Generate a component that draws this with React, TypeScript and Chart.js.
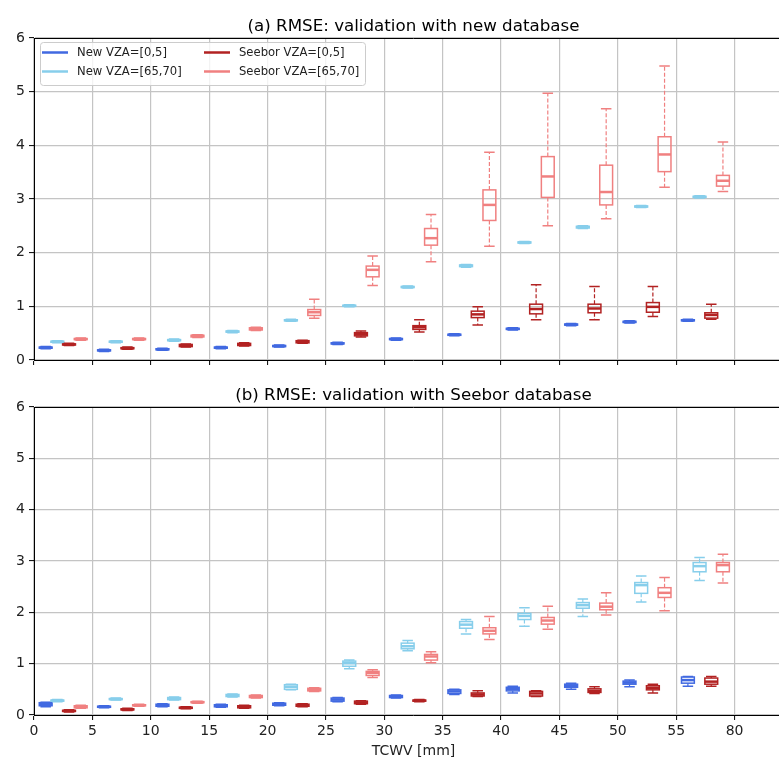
import React, { useEffect, useRef } from 'react';
import { Chart, registerables } from 'chart.js';

Chart.register(...registerables);

const FONT = "'DejaVu Sans', 'Liberation Sans', sans-serif";

// ---------------- data ----------------
const binStarts = [0, 5, 10, 15, 20, 25, 30, 35, 40, 45, 50, 55];
const seriesOffsets = [1, 2, 3, 4];
const xTickValues = [0, 5, 10, 15, 20, 25, 30, 35, 40, 45, 50, 55, 60];
const xTickLabels = ['0', '5', '10', '15', '20', '25', '30', '35', '40', '45', '50', '55', '80'];
const yTickValues = [0, 1, 2, 3, 4, 5, 6];
const seriesNames = ['New VZA=[0,5]', 'New VZA=[65,70]', 'Seebor VZA=[0,5]', 'Seebor VZA=[65,70]'];
const seriesColors = ['#4169e1', '#87ceeb', '#b22222', '#f08080'];
const titleA = '(a) RMSE: validation with new database';
const titleB = '(b) RMSE: validation with Seebor database';
const xAxisTitle = 'TCWV [mm]';

// each entry: [lower whisker, q1, median, q3, upper whisker]
const newLowA = [
  [0.21, 0.22, 0.23, 0.24, 0.25], [0.16, 0.17, 0.18, 0.19, 0.20], [0.18, 0.19, 0.20, 0.21, 0.22],
  [0.21, 0.22, 0.23, 0.24, 0.25], [0.24, 0.25, 0.26, 0.27, 0.28], [0.29, 0.30, 0.31, 0.32, 0.33],
  [0.37, 0.38, 0.39, 0.40, 0.41], [0.45, 0.46, 0.47, 0.48, 0.49], [0.56, 0.57, 0.58, 0.59, 0.60],
  [0.64, 0.65, 0.66, 0.67, 0.68], [0.69, 0.70, 0.71, 0.72, 0.73], [0.72, 0.73, 0.74, 0.75, 0.76],
];
const newHighA = [
  [0.32, 0.33, 0.34, 0.35, 0.36], [0.32, 0.33, 0.34, 0.35, 0.36], [0.35, 0.36, 0.37, 0.38, 0.39],
  [0.51, 0.52, 0.53, 0.54, 0.55], [0.72, 0.73, 0.74, 0.75, 0.76], [0.99, 1.00, 1.01, 1.02, 1.03],
  [1.34, 1.35, 1.36, 1.37, 1.38], [1.73, 1.74, 1.76, 1.77, 1.78], [2.17, 2.18, 2.19, 2.20, 2.21],
  [2.45, 2.46, 2.48, 2.49, 2.50], [2.84, 2.85, 2.86, 2.87, 2.88], [3.02, 3.03, 3.04, 3.05, 3.06],
];
const seeLowA = [
  [0.27, 0.28, 0.29, 0.30, 0.31], [0.20, 0.21, 0.22, 0.23, 0.24], [0.24, 0.25, 0.27, 0.29, 0.30],
  [0.26, 0.27, 0.29, 0.31, 0.32], [0.31, 0.32, 0.34, 0.36, 0.37], [0.43, 0.45, 0.48, 0.51, 0.54],
  [0.52, 0.57, 0.61, 0.64, 0.75], [0.65, 0.79, 0.85, 0.91, 0.99], [0.75, 0.86, 0.95, 1.04, 1.40],
  [0.75, 0.88, 0.96, 1.04, 1.37], [0.81, 0.89, 0.99, 1.07, 1.37], [0.76, 0.78, 0.84, 0.88, 1.04],
];
const seeHighA = [
  [0.37, 0.38, 0.39, 0.40, 0.41], [0.37, 0.38, 0.39, 0.40, 0.41], [0.42, 0.43, 0.45, 0.46, 0.47],
  [0.55, 0.56, 0.58, 0.60, 0.61], [0.78, 0.83, 0.89, 0.94, 1.13], [1.39, 1.55, 1.68, 1.75, 1.94],
  [1.83, 2.14, 2.27, 2.45, 2.71], [2.12, 2.60, 2.89, 3.17, 3.87], [2.50, 3.03, 3.42, 3.79, 4.97],
  [2.63, 2.89, 3.13, 3.63, 4.68], [3.22, 3.51, 3.83, 4.16, 5.48], [3.14, 3.24, 3.34, 3.44, 4.06],
];

const newLowB = [
  [0.16, 0.18, 0.21, 0.24, 0.25], [0.14, 0.15, 0.16, 0.17, 0.18], [0.16, 0.17, 0.19, 0.21, 0.22],
  [0.15, 0.16, 0.18, 0.20, 0.21], [0.18, 0.19, 0.21, 0.23, 0.24], [0.26, 0.27, 0.30, 0.33, 0.34],
  [0.33, 0.34, 0.36, 0.38, 0.39], [0.40, 0.42, 0.46, 0.49, 0.50], [0.43, 0.47, 0.51, 0.54, 0.56],
  [0.50, 0.54, 0.57, 0.60, 0.62], [0.55, 0.60, 0.63, 0.66, 0.68], [0.56, 0.62, 0.68, 0.74, 0.75],
];
const newHighB = [
  [0.26, 0.27, 0.28, 0.29, 0.30], [0.29, 0.30, 0.31, 0.32, 0.33], [0.29, 0.30, 0.32, 0.34, 0.35],
  [0.35, 0.36, 0.38, 0.40, 0.41], [0.49, 0.50, 0.55, 0.59, 0.60], [0.90, 0.95, 1.01, 1.05, 1.07],
  [1.25, 1.29, 1.34, 1.40, 1.45], [1.58, 1.69, 1.76, 1.82, 1.86], [1.73, 1.86, 1.93, 1.98, 2.09],
  [1.92, 2.08, 2.14, 2.19, 2.26], [2.20, 2.37, 2.53, 2.58, 2.71], [2.62, 2.79, 2.90, 2.97, 3.07],
];
const seeLowB = [
  [0.06, 0.07, 0.08, 0.09, 0.10], [0.09, 0.10, 0.11, 0.12, 0.13], [0.12, 0.13, 0.14, 0.15, 0.16],
  [0.13, 0.14, 0.16, 0.18, 0.19], [0.16, 0.17, 0.19, 0.21, 0.22], [0.21, 0.22, 0.24, 0.27, 0.28],
  [0.26, 0.27, 0.28, 0.29, 0.30], [0.36, 0.37, 0.40, 0.43, 0.47], [0.36, 0.37, 0.42, 0.46, 0.47],
  [0.42, 0.44, 0.47, 0.51, 0.55], [0.43, 0.49, 0.53, 0.57, 0.60], [0.56, 0.60, 0.65, 0.72, 0.75],
];
const seeHighB = [
  [0.13, 0.14, 0.16, 0.18, 0.19], [0.17, 0.18, 0.19, 0.20, 0.21], [0.23, 0.24, 0.25, 0.26, 0.27],
  [0.33, 0.34, 0.36, 0.38, 0.39], [0.46, 0.47, 0.49, 0.52, 0.53], [0.73, 0.77, 0.82, 0.85, 0.88],
  [1.02, 1.07, 1.14, 1.18, 1.23], [1.47, 1.58, 1.64, 1.70, 1.92], [1.67, 1.77, 1.84, 1.90, 2.12],
  [1.95, 2.05, 2.11, 2.18, 2.38], [2.03, 2.29, 2.38, 2.48, 2.68], [2.57, 2.79, 2.92, 2.97, 3.13],
];

// ---------------- styles ----------------
const BOX_HALF = 0.55;
const CAP_HALF = 0.45;
const GRID_COLOR = '#c4c4c4';
const CANVAS_W = 793;
const CANVAS_H = 380;

function makeDatasets(statsList: number[][][]) {
  return statsList.map((stats, i) => ({
    label: seriesNames[i],
    data: binStarts.map((b, j) => ({ x: b + seriesOffsets[i], y: stats[j][2] })),
    boxStats: stats,
    borderColor: seriesColors[i],
    backgroundColor: seriesColors[i],
    pointRadius: 0,
    pointHoverRadius: 0,
    showLine: false,
  }));
}

const boxPlugin = {
  id: 'boxes',
  afterDatasetsDraw(chart: any) {
    const { ctx, chartArea } = chart;
    const xs = chart.scales.x;
    const ys = chart.scales.y;
    ctx.save();
    ctx.beginPath();
    ctx.rect(chartArea.left, chartArea.top - 2, chartArea.right - chartArea.left, chartArea.bottom - chartArea.top + 4);
    ctx.clip();
    chart.data.datasets.forEach((ds: any) => {
      const stats = ds.boxStats;
      if (!stats) return;
      const color = ds.borderColor;
      ds.data.forEach((pt: any, j: number) => {
        const [lo, q1, med, q3, hi] = stats[j];
        const cx = xs.getPixelForValue(pt.x);
        const hw = xs.getPixelForValue(pt.x + BOX_HALF) - cx;
        const cw = xs.getPixelForValue(pt.x + CAP_HALF) - cx;
        const pLo = ys.getPixelForValue(lo);
        const pQ1 = ys.getPixelForValue(q1);
        const pMed = ys.getPixelForValue(med);
        const pQ3 = ys.getPixelForValue(q3);
        const pHi = ys.getPixelForValue(hi);
        ctx.strokeStyle = color;
        // whiskers
        ctx.lineWidth = 1.2;
        ctx.setLineDash([4, 2]);
        ctx.beginPath();
        ctx.moveTo(cx, pQ3);
        ctx.lineTo(cx, pHi);
        ctx.moveTo(cx, pQ1);
        ctx.lineTo(cx, pLo);
        ctx.stroke();
        ctx.setLineDash([]);
        // caps
        ctx.lineWidth = 1.5;
        ctx.beginPath();
        ctx.moveTo(cx - cw, pHi);
        ctx.lineTo(cx + cw, pHi);
        ctx.moveTo(cx - cw, pLo);
        ctx.lineTo(cx + cw, pLo);
        ctx.stroke();
        // box
        ctx.lineWidth = 1.5;
        ctx.strokeRect(cx - hw, pQ3, 2 * hw, pQ1 - pQ3);
        // median
        ctx.lineWidth = 2.5;
        ctx.beginPath();
        ctx.moveTo(cx - hw, pMed);
        ctx.lineTo(cx + hw, pMed);
        ctx.stroke();
      });
    });
    ctx.restore();
  },
};

const framePlugin = {
  id: 'frame',
  afterDraw(chart: any, _args: any, opts: any) {
    const { ctx, chartArea } = chart;
    ctx.save();
    // top spine
    ctx.strokeStyle = '#000';
    ctx.lineWidth = 1;
    ctx.beginPath();
    ctx.moveTo(chartArea.left, Math.round(chartArea.top) + 0.5);
    ctx.lineTo(chartArea.right, Math.round(chartArea.top) + 0.5);
    ctx.stroke();
    // title
    ctx.fillStyle = '#000';
    ctx.font = `16.7px ${FONT}`;
    ctx.textAlign = 'center';
    ctx.textBaseline = 'alphabetic';
    ctx.fillText(opts.title, (chartArea.left + chartArea.right) / 2, chartArea.top - 7.5);
    // legend
    if (opts.legend) {
      const lx = chartArea.left + 6;
      const ly = chartArea.top + 4;
      const w = 325;
      const h = 43;
      ctx.fillStyle = 'rgba(255,255,255,0.8)';
      ctx.strokeStyle = '#cccccc';
      ctx.lineWidth = 1;
      ctx.beginPath();
      ctx.roundRect(lx + 0.5, ly + 0.5, w, h, 3);
      ctx.fill();
      ctx.stroke();
      ctx.font = `11.6px ${FONT}`;
      ctx.textAlign = 'left';
      ctx.textBaseline = 'middle';
      const colX = [lx + 2, lx + 164];
      const rowY = [ly + 10.5, ly + 29.5];
      seriesNames.forEach((name, i) => {
        const c = Math.floor(i / 2);
        const r = i % 2;
        ctx.strokeStyle = seriesColors[i];
        ctx.lineWidth = 2.5;
        ctx.beginPath();
        ctx.moveTo(colX[c], rowY[r]);
        ctx.lineTo(colX[c] + 26, rowY[r]);
        ctx.stroke();
        ctx.fillStyle = '#222';
        ctx.fillText(name, colX[c] + 35, rowY[r] + 0.5);
      });
    }
    ctx.restore();
  },
};

function makeConfig(statsList: number[][][], title: string, showXLabels: boolean, legend: boolean): any {
  return {
    type: 'scatter',
    data: { datasets: makeDatasets(statsList) },
    plugins: [boxPlugin, framePlugin],
    options: {
      animation: false,
      responsive: false,
      events: [],
      layout: { padding: { top: showXLabels ? 27 : 38, left: 0, right: 0, bottom: 0 } },
      plugins: {
        legend: { display: false },
        title: { display: false },
        tooltip: { enabled: false },
        frame: { title, legend },
      },
      scales: {
        x: {
          type: 'linear',
          min: 0,
          max: 65,
          afterBuildTicks: (s: any) => {
            s.ticks = xTickValues.map((v) => ({ value: v }));
          },
          afterFit: (s: any) => {
            s.height = showXLabels ? 45 : 20;
          },
          grid: { color: GRID_COLOR, lineWidth: 1.2, tickColor: '#000', tickLength: 5, tickWidth: 1 },
          border: { display: true, color: '#000', width: 1 },
          ticks: {
            display: showXLabels,
            padding: 3,
            color: '#222',
            font: { family: FONT, size: 14 },
            maxRotation: 0,
            autoSkip: false,
            callback: (v: number) => xTickLabels[xTickValues.indexOf(v)],
          },
          title: {
            display: showXLabels,
            text: xAxisTitle,
            color: '#222',
            font: { family: FONT, size: 14 },
            padding: { top: 0, bottom: 0 },
          },
        },
        y: {
          type: 'linear',
          min: 0,
          max: 6,
          afterBuildTicks: (s: any) => {
            s.ticks = yTickValues.map((v) => ({ value: v }));
          },
          afterFit: (s: any) => {
            s.width = 34;
          },
          grid: { color: GRID_COLOR, lineWidth: 1.2, tickColor: '#000', tickLength: 5, tickWidth: 1 },
          border: { display: true, color: '#000', width: 1 },
          ticks: {
            padding: 4,
            color: '#222',
            font: { family: FONT, size: 14 },
            callback: (v: number) => String(v),
          },
        },
      },
    },
  };
}

function BoxChart(props: { stats: number[][][]; title: string; showXLabels: boolean; legend: boolean; top: number }) {
  const ref = useRef<HTMLCanvasElement | null>(null);
  useEffect(() => {
    if (!ref.current) return;
    const chart = new Chart(ref.current, makeConfig(props.stats, props.title, props.showXLabels, props.legend));
    return () => chart.destroy();
  }, []);
  return (
    <canvas
      ref={ref}
      width={CANVAS_W}
      height={CANVAS_H}
      style={{ position: 'absolute', left: 0, top: props.top, width: CANVAS_W, height: CANVAS_H }}
    />
  );
}

export default function App() {
  return (
    <div
      style={{
        position: 'absolute',
        left: 0,
        top: 0,
        width: 779,
        height: 760,
        overflow: 'hidden',
        background: '#fff',
      }}
    >
      <BoxChart stats={[newLowA, newHighA, seeLowA, seeHighA]} title={titleA} showXLabels={false} legend={true} top={0} />
      <BoxChart stats={[newLowB, newHighB, seeLowB, seeHighB]} title={titleB} showXLabels={true} legend={false} top={380} />
    </div>
  );
}
